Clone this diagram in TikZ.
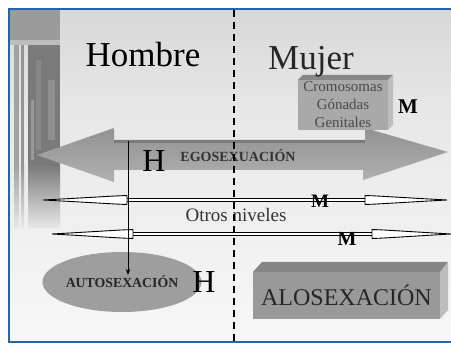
\documentclass[tikz,border=0pt]{standalone}
\usepackage{fontspec}
\setmainfont{Liberation Serif}
\usetikzlibrary{shapes.geometric,arrows.meta}
\definecolor{frameblue}{HTML}{2264AE}
\definecolor{bgtop}{HTML}{D8D8D8}
\definecolor{bgmid}{HTML}{E8E8E8}
\definecolor{bgbot}{HTML}{F7F7F7}
\definecolor{boxgray}{HTML}{A9A9A9}
\definecolor{bevdark}{HTML}{868686}
\definecolor{bevlight}{HTML}{BDBDBD}
\definecolor{arrtop}{HTML}{929292}
\definecolor{arrbot}{HTML}{B0B0B0}
\definecolor{colgray}{HTML}{7A7A7A}
\definecolor{txtgray}{HTML}{4A4A4A}
\begin{document}
\begin{tikzpicture}[x=1pt,y=-1pt,
  lbl/.style={inner sep=0pt, anchor=base, text=black},
  bigfont/.style={font=\fontsize{35}{35}\selectfont},
  hfont/.style={font=\fontsize{32}{32}\selectfont},
  mfont/.style={font=\bfseries\fontsize{20}{20}\selectfont},
  spear/.style={fill=white, draw=black, line width=0.9pt},
  thinshaft/.style={draw=black, line width=1pt, double=white, double distance=2.4pt},
  dashline/.style={draw=black, line width=1.4pt, dash pattern=on 7pt off 5pt}
]
\useasboundingbox (0,0) rectangle (451,344);
\fill[white] (0,0) rectangle (451,344);
% background
\shade[top color=bgtop, bottom color=bgmid] (10,10) rectangle (451,120);
\shade[top color=bgmid, bottom color=bgbot] (10,120) rectangle (451,341);
% left decorative column
\fill[colgray!65!bgtop] (10,10) rectangle (60,40);
\fill[colgray] (28,45) rectangle (60,165);
\shade[top color=colgray, bottom color=bgmid] (28,165) rectangle (60,228);
\fill[colgray!70!white] (14,45) rectangle (19,165);
\shade[top color=colgray!70!white, bottom color=bgmid] (14,165) rectangle (19,228);
\fill[colgray!80!white] (21,45) rectangle (24,165);
\shade[top color=colgray!80!white, bottom color=bgmid] (21,165) rectangle (24,228);
\fill[black!47] (36,60) rectangle (41,150);
\fill[black!44] (48,80) rectangle (55,140);
\fill[black!40] (31,100) rectangle (34,160);
\fill[bevlight] (10,40) rectangle (60,45);
% big double arrow EGOSEXUACION
\shade[top color=arrtop, bottom color=arrbot]
  (37,155) -- (114,128) -- (114,140) -- (365,140) -- (365,128) -- (448,152)
  -- (363,180) -- (363,170) -- (114,170) -- (114,182) -- cycle;
\fill[black!52] (114,140) rectangle (365,143);
% Cromosomas box
\fill[bevdark] (298,80) -- (303,75) -- (393,75) -- (388,80) -- cycle;
\fill[bevlight] (388,80) -- (393,75) -- (393,125) -- (388,130) -- cycle;
\node[fill=boxgray, minimum width=90pt, minimum height=50pt, inner sep=0pt,
  align=center, text=txtgray, font=\fontsize{15}{18}\selectfont]
  (cgg) at (343,105) {Cromosomas\\Gónadas\\Genitales};
% ALOSEXACION box
\fill[bevdark] (253,272) -- (262,262) -- (448,262) -- (440,272) -- cycle;
\fill[bevlight] (440,272) -- (448,262) -- (448,310) -- (440,319) -- cycle;
\node[fill=black!40, minimum width=187pt, minimum height=47pt, inner sep=0pt,
  text=black!85, font=\fontsize{24}{24}\selectfont]
  (alo) at (346.5,295.5) {ALOSEXACIÓN};
% ellipse AUTOSEXACION
\node[ellipse, fill=black!38, minimum width=123pt, minimum height=60pt, inner sep=0pt,
  text=black!85, font=\bfseries\fontsize{13.8}{13.8}\selectfont]
  (auto) at (122,282) {AUTOSEXACIÓN};
% thin double arrows
\coordinate (a1l) at (127,200); \coordinate (a1r) at (365,200);
\coordinate (a1lt) at (43,200); \coordinate (a1rt) at (447,200);
\coordinate (a2l) at (133,234); \coordinate (a2r) at (372,234);
\coordinate (a2lt) at (52,234); \coordinate (a2rt) at (451,234);
\draw[thinshaft] (a1l) -- (a1r);
\draw[thinshaft] (a2l) -- (a2r);
\foreach \b/\t/\s in {a1l/a1lt/-1, a1r/a1rt/1, a2l/a2lt/-1, a2r/a2rt/1}{
  \path[spear] ([yshift=-4.3pt]\b) .. controls ([xshift=\s*3pt,yshift=-4.8pt]\b) and ([xshift=\s*30pt,yshift=-2.8pt]\b) .. (\t)
    .. controls ([xshift=\s*30pt,yshift=2.8pt]\b) and ([xshift=\s*3pt,yshift=4.8pt]\b) .. ([yshift=4.3pt]\b) -- cycle;
}
% labels
\node[lbl, bigfont] (hombre) at (143,67) {Hombre};
\node[lbl, bigfont, text=black!85] (mujer) at (311,70) {Mujer};
\node[lbl, font=\bfseries\fontsize{21}{21}\selectfont] (mbox) at (408,114) {M};
\node[lbl, hfont] (h1) at (154,172) {H};
\node[lbl, font=\bfseries\fontsize{14}{14}\selectfont, text=black!80] (ego) at (238,162) {EGOSEXUACIÓN};
\node[lbl, font=\fontsize{19}{19}\selectfont, text=black!80] (otros) at (236,222) {Otros niveles};
\node[lbl, font=\bfseries\fontsize{19}{19}\selectfont] (m1) at (320,208) {M};
\node[lbl, mfont] (m2) at (347,246) {M};
\node[lbl, hfont] (h2) at (204,293) {H};
% vertical arrow egosexuacion -> autosexacion
\coordinate (egotop) at (128,141);
\coordinate (autoin) at (128,275);
\draw[line width=1pt, -{Stealth[length=6pt,width=4.5pt]}] (egotop) -- (autoin);
% dashed divider
\coordinate (dtop) at (234,10);
\coordinate (dbot) at (234,342);
\draw[dashline] (dtop) -- (dbot);
% blue frame
\draw[frameblue, line width=2.5pt] (452,9) -- (9,9) -- (9,342) -- (452,342);
\end{tikzpicture}
\end{document}
